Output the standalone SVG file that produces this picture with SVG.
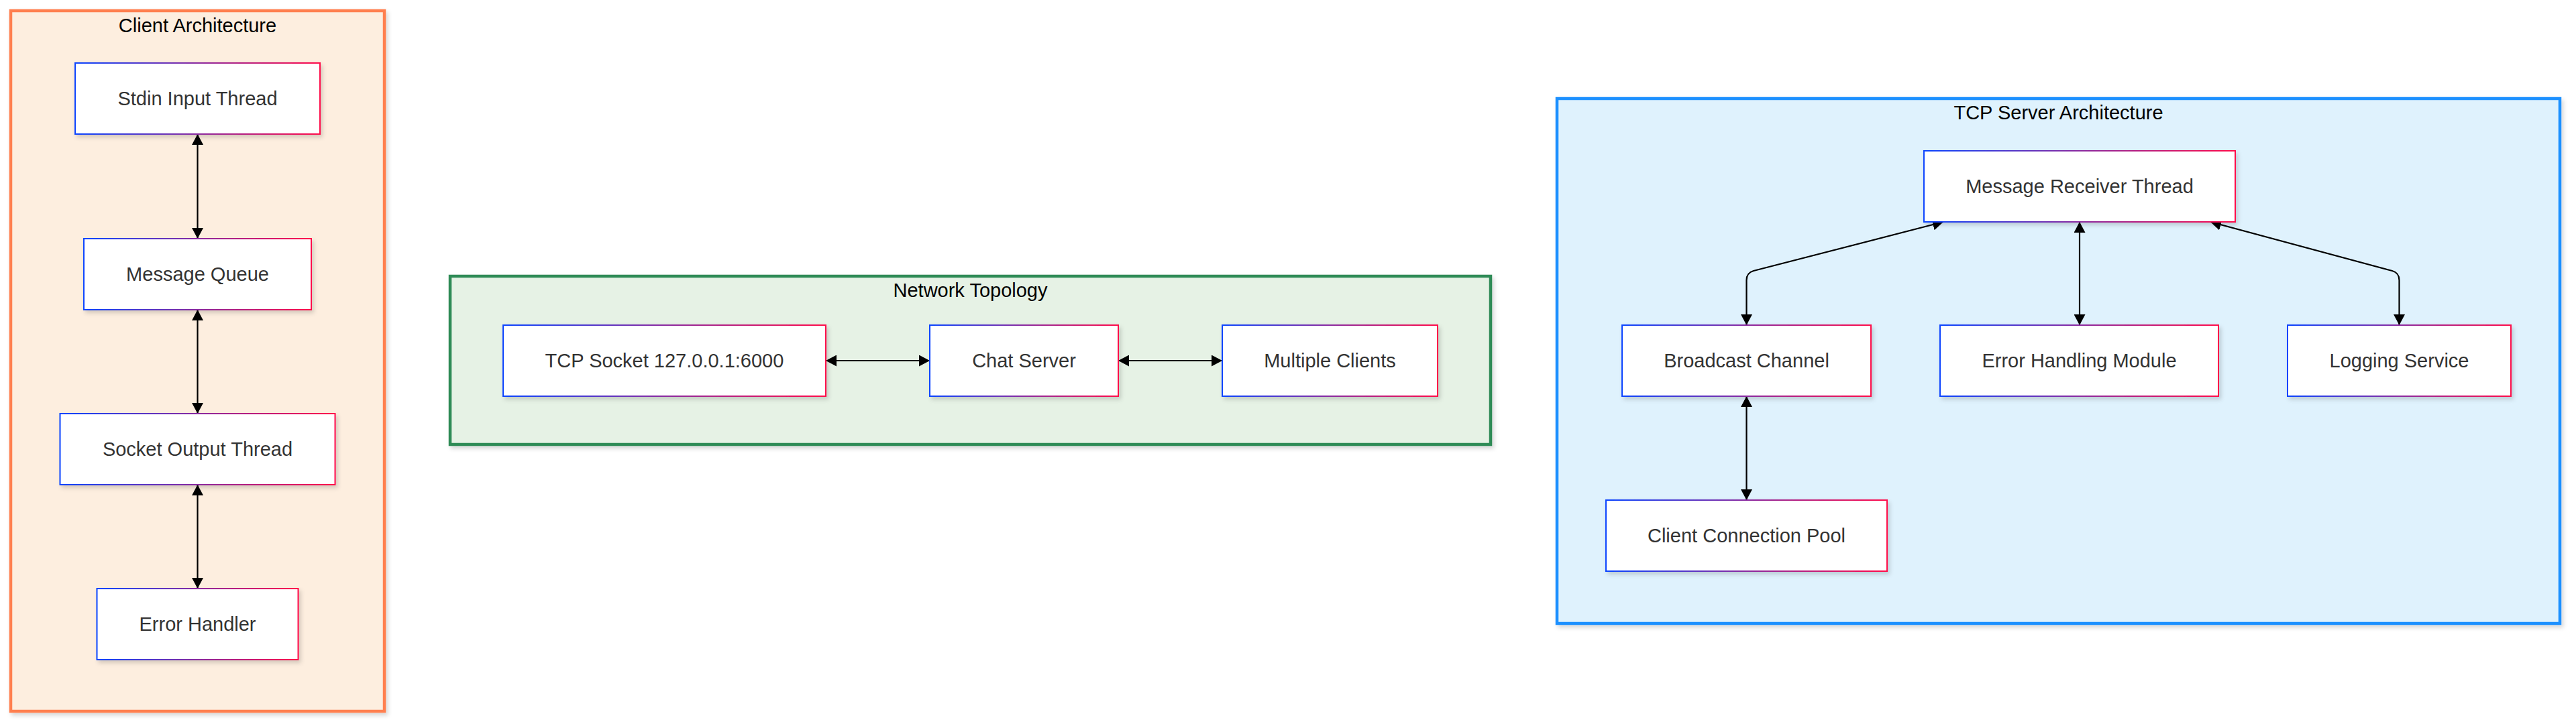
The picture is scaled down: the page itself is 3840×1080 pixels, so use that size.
<svg xmlns="http://www.w3.org/2000/svg" width="3840" height="1080" viewBox="0 0 3840 1080">
<defs>
  <linearGradient id="nodeStroke" x1="0" y1="0" x2="1" y2="0">
    <stop offset="0" stop-color="#0a44ff"/>
    <stop offset="0.5" stop-color="#8a2aa0"/>
    <stop offset="1" stop-color="#ff0a4a"/>
  </linearGradient>
  <filter id="shadow" x="-10%" y="-20%" width="120%" height="150%">
    <feDropShadow dx="3" dy="4" stdDeviation="3" flood-color="#000" flood-opacity="0.16"/>
  </filter>
  <marker id="arrow" viewBox="0 0 16 17" refX="16" refY="8.5" markerWidth="16" markerHeight="17" markerUnits="userSpaceOnUse" orient="auto-start-reverse">
    <path d="M0,0 L16,8.5 L0,17 z" fill="#000"/>
  </marker>
</defs>
<style>
  .node rect { fill: #ffffff; stroke: url(#nodeStroke); stroke-width: 2; filter: url(#shadow); }
  .node text { font-family: "Liberation Sans", Arial, sans-serif; font-size: 29px; fill: #333333; text-anchor: middle; }
  .cluster-title { font-family: "Liberation Sans", Arial, sans-serif; font-size: 29px; fill: #000000; text-anchor: middle; }
  .edge { fill: none; stroke: #000; stroke-width: 2.2; marker-start: url(#arrow); marker-end: url(#arrow); }
</style>
<rect x="0" y="0" width="3840" height="1080" fill="#ffffff"/>

<!-- Clusters -->
<g id="cluster-client">
  <rect x="16" y="16" width="557" height="1045" fill="#fdeedf" stroke="#ff7f50" stroke-width="4.5" filter="url(#shadow)"/>
  <text class="cluster-title" x="294.5" y="48">Client Architecture</text>
</g>
<g id="cluster-network">
  <rect x="671" y="412" width="1551" height="251" fill="#e6f2e5" stroke="#2e8b57" stroke-width="4.5" filter="url(#shadow)"/>
  <text class="cluster-title" x="1446.5" y="443">Network Topology</text>
</g>
<g id="cluster-server">
  <rect x="2321" y="147" width="1495" height="783" fill="#dff2fd" stroke="#1e90ff" stroke-width="4.5" filter="url(#shadow)"/>
  <text class="cluster-title" x="3068.5" y="178">TCP Server Architecture</text>
</g>

<!-- Connectors -->
<g id="connectors">
  <path class="edge" d="M294.5,200 L294.5,356"/>
  <path class="edge" d="M294.5,462 L294.5,617"/>
  <path class="edge" d="M294.5,723 L294.5,878"/>
  <path class="edge" d="M1231,538 L1386,538"/>
  <path class="edge" d="M1667,538 L1822,538"/>
  <path class="edge" d="M2897,331 L2614,404 Q2603.5,407 2603.5,418 L2603.5,485"/>
  <path class="edge" d="M3100,331 L3100,485"/>
  <path class="edge" d="M3295,331 L3566,404 Q3576.5,407 3576.5,418 L3576.5,485"/>
  <path class="edge" d="M2603.5,591 L2603.5,746"/>
</g>

<!-- Client nodes -->
<g id="stdin-input-thread" class="node">
  <rect x="112" y="94" width="365" height="106"/>
  <text x="294.5" y="157">Stdin Input Thread</text>
</g>
<g id="message-queue" class="node">
  <rect x="125" y="356" width="339" height="106"/>
  <text x="294.5" y="419">Message Queue</text>
</g>
<g id="socket-output-thread" class="node">
  <rect x="89.5" y="617" width="410" height="106"/>
  <text x="294.5" y="680">Socket Output Thread</text>
</g>
<g id="error-handler" class="node">
  <rect x="144.5" y="878" width="300" height="106"/>
  <text x="294.5" y="941">Error Handler</text>
</g>

<!-- Network nodes -->
<g id="tcp-socket" class="node">
  <rect x="750" y="485" width="481" height="106"/>
  <text x="990.5" y="548">TCP Socket 127.0.0.1:6000</text>
</g>
<g id="chat-server" class="node">
  <rect x="1386" y="485" width="281" height="106"/>
  <text x="1526.5" y="548">Chat Server</text>
</g>
<g id="multiple-clients" class="node">
  <rect x="1822" y="485" width="321" height="106"/>
  <text x="1982.5" y="548">Multiple Clients</text>
</g>

<!-- Server nodes -->
<g id="message-receiver-thread" class="node">
  <rect x="2868" y="225" width="464" height="106"/>
  <text x="3100" y="288">Message Receiver Thread</text>
</g>
<g id="broadcast-channel" class="node">
  <rect x="2418" y="485" width="371" height="106"/>
  <text x="2603.5" y="548">Broadcast Channel</text>
</g>
<g id="error-handling-module" class="node">
  <rect x="2892" y="485" width="415" height="106"/>
  <text x="3099.5" y="548">Error Handling Module</text>
</g>
<g id="logging-service" class="node">
  <rect x="3410" y="485" width="333" height="106"/>
  <text x="3576.5" y="548">Logging Service</text>
</g>
<g id="client-connection-pool" class="node">
  <rect x="2394" y="746" width="419" height="106"/>
  <text x="2603.5" y="809">Client Connection Pool</text>
</g>
</svg>
